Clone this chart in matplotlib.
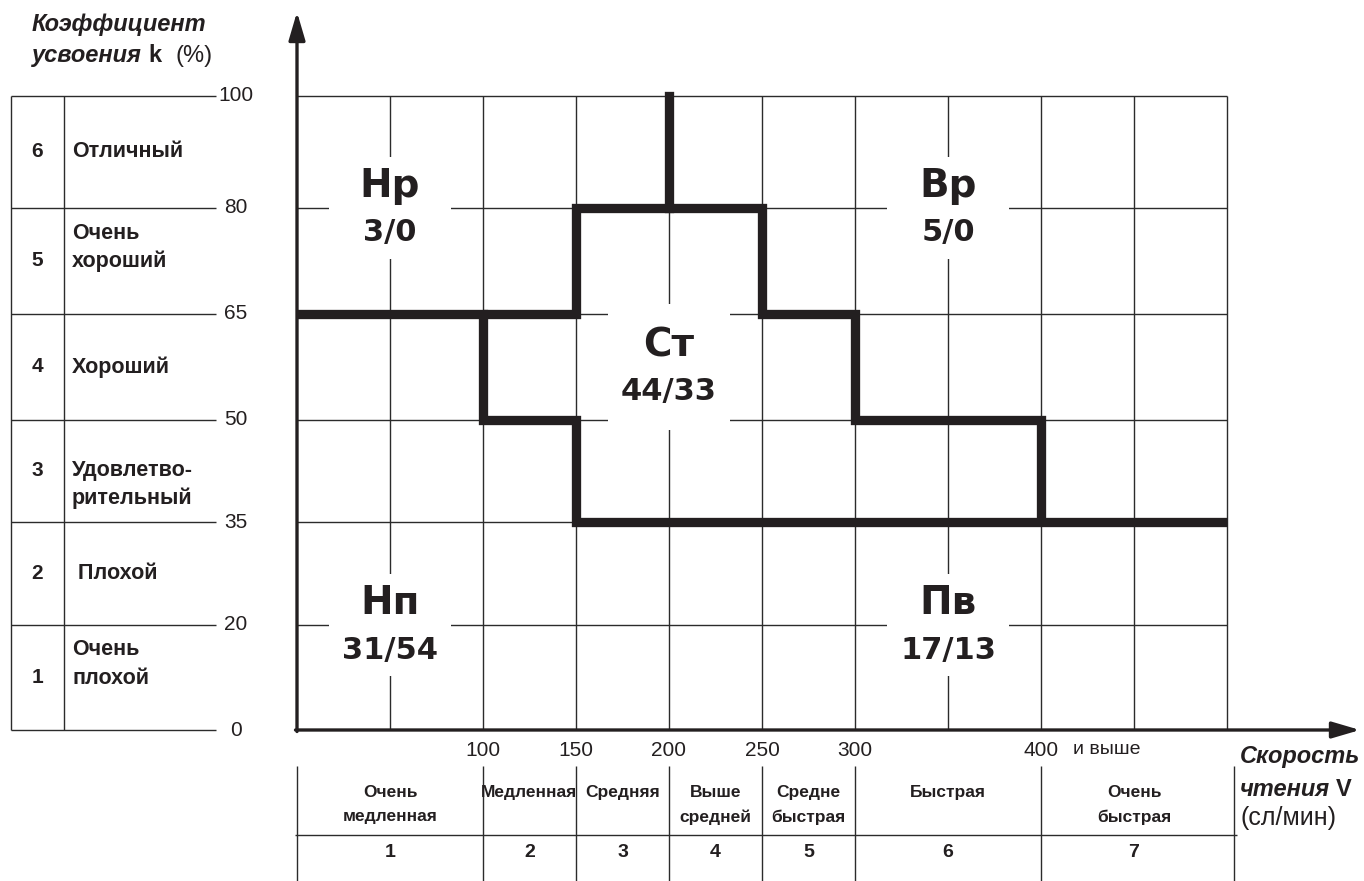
import numpy as np
import matplotlib.pyplot as plt
from matplotlib.patches import Rectangle

plt.rcParams['font.family'] = ['Liberation Sans', 'DejaVu Sans']

# --- data ---
k_ticks = [0, 20, 35, 50, 65, 80, 100]
grade_nums = ["1", "2", "3", "4", "5", "6"]
grade_names = ["Очень\nплохой", " Плохой", "Удовлетво-\nрительный",
               "Хороший", "Очень\nхороший", "Отличный"]

v_ticks = [100, 150, 200, 250, 300, 400]
v_edges = [0, 100, 150, 200, 250, 300, 400, 500]
v_grid = [50, 100, 150, 200, 250, 300, 350, 400, 450, 500]
class_nums = ["1", "2", "3", "4", "5", "6", "7"]
class_names = ["Очень\nмедленная", "Медленная", "Средняя", "Выше\nсредней",
               "Средне\nбыстрая", "Быстрая", "Очень\nбыстрая"]

# boundary lines (speed, k)
low_v = [0, 100, 100, 150, 150, 500]
low_k = [65, 65, 50, 50, 35, 35]
high_v = [100, 150, 150, 250, 250, 300, 300, 400, 400]
high_k = [65, 65, 80, 80, 65, 65, 50, 50, 35]
mid_v = [200, 200]
mid_k = [80, 100]

zone_names = ["Нр", "Вр", "Ст", "Нп", "Пв"]
zone_values = ["3/0", "5/0", "44/33", "31/54", "17/13"]
zone_v = [50, 350, 200, 50, 350]
zone_k = [80, 80, 57.5, 20, 20]

INK = "#231f20"
GRID = "#2b2b2b"

# vertical pixel rows of the k levels (the scale is not linear)
LEVEL_PY = [730, 625, 522, 420, 314, 208, 96]


# pixel helpers for the layout
def X(px):
    return (px - 297) * 50 / 93


def Y(py):
    return (730 - py) / 105.7


def ky(k):
    return np.interp(k, k_ticks, [Y(p) for p in LEVEL_PY])


fig = plt.figure(figsize=(13.64, 8.81), dpi=100)
ax = fig.add_axes([0, 0, 1, 1])
ax.set_xlim(X(0), X(1364))
ax.set_ylim(Y(881), Y(0))
ax.axis("off")

# grid
ax.vlines(v_grid, ky(0), ky(100), color=GRID, lw=1.0, zorder=1)
ax.hlines(ky(k_ticks[1:]), 0, v_edges[-1], color=GRID, lw=1.0, zorder=1)

# boundaries
ax.plot(low_v, ky(low_k), color=INK, lw=6.7, solid_joinstyle="miter",
        solid_capstyle="butt", zorder=3)
ax.plot(high_v, ky(high_k), color=INK, lw=6.7, solid_joinstyle="miter",
        solid_capstyle="butt", zorder=3)
ax.plot(mid_v, ky(mid_k), color=INK, lw=6.7, solid_capstyle="projecting",
        zorder=3)

# zone labels
for name, val, v, k in zip(zone_names, zone_values, zone_v, zone_k):
    h = 1.2 if name == "Ст" else 0.96
    ax.add_patch(Rectangle((v - 33, ky(k) - h / 2), 66, h, fc="white",
                           ec="none", zorder=2))
    ax.annotate(name, (v, ky(k)), xytext=(0, 15.5), textcoords="offset points",
                ha="center", va="center", fontsize=28, weight="bold",
                family="DejaVu Sans", color=INK, zorder=4)
    ax.annotate(val, (v, ky(k)), xytext=(0, -18), textcoords="offset points",
                ha="center", va="center", fontsize=22, weight="bold",
                family="DejaVu Sans", color=INK, zorder=4)

# axes with arrows
ax.annotate("", xy=(0, Y(12)), xytext=(0, Y(731.5)),
            arrowprops=dict(arrowstyle="-|>,head_length=0.85,head_width=0.25",
                            color=INK, lw=2.4, mutation_scale=20,
                            shrinkA=0, shrinkB=0))
ax.annotate("", xy=(X(1360), ky(0)), xytext=(X(295.5), ky(0)),
            arrowprops=dict(arrowstyle="-|>,head_length=0.85,head_width=0.25",
                            color=INK, lw=2.4, mutation_scale=20,
                            shrinkA=0, shrinkB=0))

# left table (grades of k)
ax.hlines(ky(k_ticks), X(11), X(216), color=GRID, lw=1.0)
ax.vlines([X(11), X(64)], ky(0), ky(100), color=GRID, lw=1.0)
for k in k_ticks:
    ax.text(X(236), ky(k), str(k), ha="center", va="center", fontsize=15,
            color=INK)
grade_dy = [13.5, 0, -13.5, 0, 13.5, 0]
for i, (num, name) in enumerate(zip(grade_nums, grade_names)):
    yc = (ky(k_ticks[i]) + ky(k_ticks[i + 1])) / 2
    ax.text(X(37), yc, num, ha="center", va="center", fontsize=15,
            weight="bold", color=INK)
    ax.text(X(72), yc + grade_dy[i] / 105.7, name, ha="left", va="center",
            fontsize=15.5, weight="bold", color=INK, linespacing=1.45)

# y title
t1 = ax.text(X(32), Y(25), "Коэффициент", ha="left", va="center",
             fontsize=17, weight="bold", style="italic", color=INK)
t2 = ax.text(X(32), Y(56), "усвоения", ha="left", va="center",
             fontsize=17, weight="bold", style="italic", color=INK)
t3 = ax.annotate("k", xy=(1, 0), xycoords=t2, xytext=(5, 0),
                 textcoords="offset points", ha="left", va="bottom",
                 fontsize=17, weight="bold", color=INK)
ax.annotate("(%)", xy=(1, 0), xycoords=t3, xytext=(10, 0),
            textcoords="offset points", ha="left", va="bottom",
            fontsize=17, color=INK)

# bottom table (speed classes)
table_x = list(v_edges[:-1]) + [X(1234)]
ax.vlines(table_x, Y(881), Y(766), color=GRID, lw=1.0)
ax.hlines(Y(835), X(295), X(1237), color=GRID, lw=1.0)
for v in v_ticks:
    ax.text(v, Y(750), str(v), ha="center", va="center", fontsize=15,
            color=INK)
ax.text(X(1073), Y(750), "и выше", ha="left", va="center", fontsize=14,
        color=INK)
for i, (num, name) in enumerate(zip(class_nums, class_names)):
    xc = (v_edges[i] + v_edges[i + 1]) / 2
    ax.text(xc, Y(785), name, ha="center", va="top", fontsize=12.5,
            weight="bold", color=INK, linespacing=1.75)
    ax.text(xc, Y(857), num, ha="center", va="baseline", fontsize=14,
            weight="bold", color=INK)

# x title
ax.text(X(1240), Y(757), "Скорость", ha="left", va="center", fontsize=17,
        weight="bold", style="italic", color=INK)
s2 = ax.text(X(1240), Y(789), "чтения", ha="left", va="center", fontsize=17,
             weight="bold", style="italic", color=INK)
ax.annotate("V", xy=(1, 0), xycoords=s2, xytext=(4, 0),
            textcoords="offset points", ha="left", va="bottom",
            fontsize=17, weight="bold", color=INK)
ax.text(X(1240), Y(818), "(сл/мин)", ha="left", va="center", fontsize=18,
        color=INK)

fig.savefig("out.png", dpi=100)
